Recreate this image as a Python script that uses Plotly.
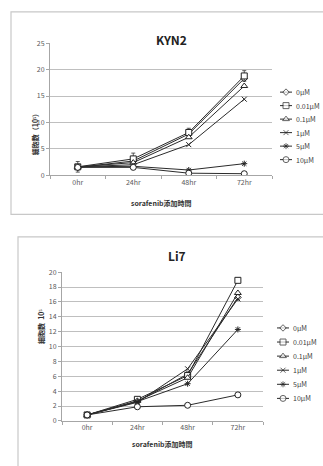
import plotly.graph_objects as go

W, H = 323, 466
times = ["0hr", "24hr", "48hr", "72hr"]
series = ["0μM", "0.01μM", "0.1μM", "1μM", "5μM", "10μM"]
symbols = ["diamond", "square", "triangle-up", "x-thin-open", "asterisk-open", "circle"]
fills = ["white", "white", "white", "#222", "#222", "white"]
sizes = [5, 6, 6, 5, 5, 6]

kyn2_0 = [1.5, 2.7, 7.8, 18.3]
kyn2_001 = [1.6, 3.1, 8.1, 18.8]
kyn2_01 = [1.6, 2.4, 7.2, 16.9]
kyn2_1 = [1.6, 2.0, 5.8, 14.4]
kyn2_5 = [1.6, 1.7, 1.0, 2.2]
kyn2_10 = [1.5, 1.5, 0.4, 0.3]
kyn2_err = [1.0, 1.1, 0.8, 1.0]

li7_0 = [0.8, 2.6, 6.3, 16.6]
li7_001 = [0.8, 2.9, 6.1, 18.9]
li7_01 = [0.8, 2.7, 5.8, 17.2]
li7_1 = [0.8, 2.5, 7.0, 16.4]
li7_5 = [0.8, 2.6, 5.0, 12.3]
li7_10 = [0.8, 1.9, 2.1, 3.5]

kyn2 = [kyn2_0, kyn2_001, kyn2_01, kyn2_1, kyn2_5, kyn2_10]
li7 = [li7_0, li7_001, li7_01, li7_1, li7_5, li7_10]

FONT = "Noto Sans CJK JP"
LINE = "#2b2b2b"
GRID = "#bfbfbf"

def px(x):
    return x / W

def py(y):
    return 1 - y / H

fig = go.Figure()

for i, name in enumerate(series):
    mk = dict(symbol=symbols[i], size=sizes[i], color=fills[i],
              line=dict(color="#222", width=1))
    err = dict(type="data", array=kyn2_err, color="#333", thickness=0.8, width=2) if i == 1 else None
    fig.add_trace(go.Scatter(
        x=list(range(4)), y=kyn2[i], mode="lines+markers", name=name,
        line=dict(color=LINE, width=1), marker=mk,
        error_y=err, xaxis="x", yaxis="y", showlegend=False))
    fig.add_trace(go.Scatter(
        x=list(range(4)), y=li7[i], mode="lines+markers", name=name,
        line=dict(color=LINE, width=1), marker=mk,
        xaxis="x2", yaxis="y2", showlegend=False))
    # legend glyphs
    for ax in ("3", "4"):
        fig.add_trace(go.Scatter(
            x=[0, 0.5, 1], y=[i, i, i], mode="lines+markers",
            line=dict(color=LINE, width=1),
            marker=dict(symbol=symbols[i], size=[0, sizes[i], 0], color=fills[i],
                        line=dict(color="#222", width=1)),
            xaxis="x" + ax, yaxis="y" + ax, showlegend=False, hoverinfo="skip"))

tickfont = dict(family=FONT, size=7, color="#595959")

def xax(domain, anchor):
    return dict(domain=domain, anchor=anchor, range=[-0.5, 3.5],
                tickmode="array", tickvals=list(range(4)), ticktext=times,
                ticks="", showgrid=False, zeroline=False,
                showline=True, linecolor="#a6a6a6", linewidth=1,
                tickfont=tickfont,
                minor=dict(tickmode="array", tickvals=[-0.5, 0.5, 1.5, 2.5, 3.5],
                           ticks="outside", ticklen=3, tickcolor="#a6a6a6", showgrid=False),
                fixedrange=True)

def yax(domain, anchor, rng, dtick):
    return dict(domain=domain, anchor=anchor, range=rng, dtick=dtick,
                showgrid=True, gridcolor=GRID, gridwidth=1, zeroline=False,
                showline=True, linecolor="#a6a6a6", linewidth=1,
                ticks="outside", ticklen=3, tickcolor="#a6a6a6",
                tickfont=tickfont, fixedrange=True)

hidden = dict(visible=False, showgrid=False, zeroline=False, fixedrange=True)

fig.update_layout(
    width=W, height=H, margin=dict(l=0, r=0, t=0, b=0),
    paper_bgcolor="white", plot_bgcolor="white",
    xaxis=xax([px(50), px(272)], "y"),
    yaxis=yax([py(173), py(38)], "x", [0, 25], 5),
    xaxis2=xax([px(62), px(263)], "y2"),
    yaxis2=yax([py(424), py(272)], "x2", [0, 20], 2),
    xaxis3=dict(domain=[px(280), px(292)], anchor="y3", range=[0, 1], **hidden),
    yaxis3=dict(domain=[py(88 + 13.8 * 5.5), py(88 - 13.8 * 0.5)], anchor="x3",
                range=[5.5, -0.5], **hidden),
    xaxis4=dict(domain=[px(277), px(289)], anchor="y4", range=[0, 1], **hidden),
    yaxis4=dict(domain=[py(329 + 14.4 * 5.5), py(329 - 14.4 * 0.5)], anchor="x4",
                range=[5.5, -0.5], **hidden),
    showlegend=False,
)

shapes = [
    dict(type="rect", xref="paper", yref="paper", x0=px(11), x1=px(340), y0=py(213), y1=py(6),
         line=dict(color="#c8c8c8", width=1.2)),
    dict(type="rect", xref="paper", yref="paper", x0=px(18), x1=px(340), y0=py(480), y1=py(236),
         line=dict(color="#c8c8c8", width=1.2)),
]
fig.update_layout(shapes=shapes)

ann = []
ann.append(dict(text="<b>KYN2</b>", x=px(171), y=py(23), xref="paper", yref="paper",
                showarrow=False, font=dict(family=FONT, size=12, color="#222")))
ann.append(dict(text="<b>Li7</b>", x=px(177), y=py(255), xref="paper", yref="paper",
                showarrow=False, font=dict(family=FONT, size=12, color="#222")))
ann.append(dict(text="<b>sorafenib添加時間</b>", x=px(161), y=py(201), xref="paper", yref="paper",
                showarrow=False, font=dict(family=FONT, size=7, color="#333")))
ann.append(dict(text="<b>sorafenib添加時間</b>", x=px(162), y=py(455), xref="paper", yref="paper",
                showarrow=False, font=dict(family=FONT, size=7, color="#333")))
ann.append(dict(text="<b>細胞数（10⁵）</b>", x=px(28), y=py(105), xref="paper", yref="paper",
                textangle=-90, showarrow=False, font=dict(family=FONT, size=7, color="#333")))
ann.append(dict(text="<b>細胞数  10⁵</b>", x=px(34), y=py(348), xref="paper", yref="paper",
                textangle=-90, showarrow=False, font=dict(family=FONT, size=7, color="#333")))
for i, name in enumerate(series):
    for ax in ("3", "4"):
        ann.append(dict(text=name, x=1, y=i, xref="x" + ax, yref="y" + ax, xanchor="left",
                        xshift=2, showarrow=False,
                        font=dict(family=FONT, size=7, color="#404040")))
fig.update_layout(annotations=ann)

fig.write_html("out.html", config={"displayModeBar": False, "staticPlot": True},
               post_script="document.body.style.margin='0';document.body.style.overflow='hidden';")
